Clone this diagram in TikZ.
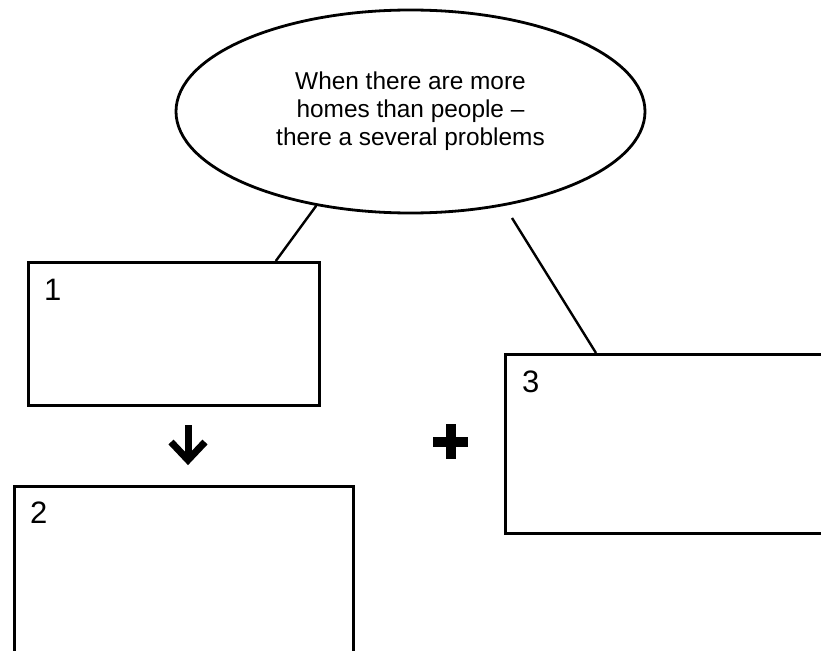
\documentclass[tikz,border=0pt]{standalone}
\usepackage{fontspec}
\setmainfont{Liberation Sans}
\usetikzlibrary{shapes.geometric}
\begin{document}
\begin{tikzpicture}[x=1pt,y=-1pt,
  boxstyle/.style={draw,line width=2.8pt,rectangle,inner sep=0pt,anchor=north west},
  numstyle/.style={inner sep=0pt,anchor=base west,font=\fontsize{31}{31}\selectfont},
  link/.style={line width=2.4pt}]
\useasboundingbox (0,0) rectangle (821,650);
\clip (0,0) rectangle (821,650);
\fill[white] (0,0) rectangle (821,650);
\node[ellipse,draw,line width=2.8pt,minimum width=469pt,minimum height=203pt,inner sep=0pt,
  align=center,font=\fontsize{24.4}{28}\selectfont] (ell) at (410.5,111.5)
  {When there are more\\homes than people --\\there a several problems};
\node[boxstyle,minimum width=291pt,minimum height=143pt] (box1) at (27,261) {};
\node[boxstyle,minimum width=339pt,minimum height=200pt] (box2) at (13,485) {};
\node[boxstyle,minimum width=330pt,minimum height=179pt] (box3) at (504,353) {};
\node[numstyle] (n1) at (44,300) {1};
\node[numstyle] (n2) at (30,523) {2};
\node[numstyle] (n3) at (522,392) {3};
\coordinate (free) at (512,218);
\draw[link] (ell.225) -- ([xshift=-45pt]box1.north east);
\draw[link] (free) -- ([xshift=92pt]box3.north west);
% down arrow
\coordinate (arr) at (188,445);
\draw[line width=7pt] ([yshift=20pt]arr) -- ([yshift=-14pt]arr);
\draw[line width=7pt,line join=miter] ([xshift=-17pt,yshift=3pt]arr) -- ([yshift=-15pt]arr) -- ([xshift=17pt,yshift=3pt]arr);
% plus
\coordinate (plus) at (450.5,441.5);
\fill ([xshift=-17.5pt,yshift=-5pt]plus) rectangle ([xshift=17.5pt,yshift=5pt]plus);
\fill ([xshift=-5pt,yshift=-17.5pt]plus) rectangle ([xshift=5pt,yshift=17.5pt]plus);
\end{tikzpicture}
\end{document}
